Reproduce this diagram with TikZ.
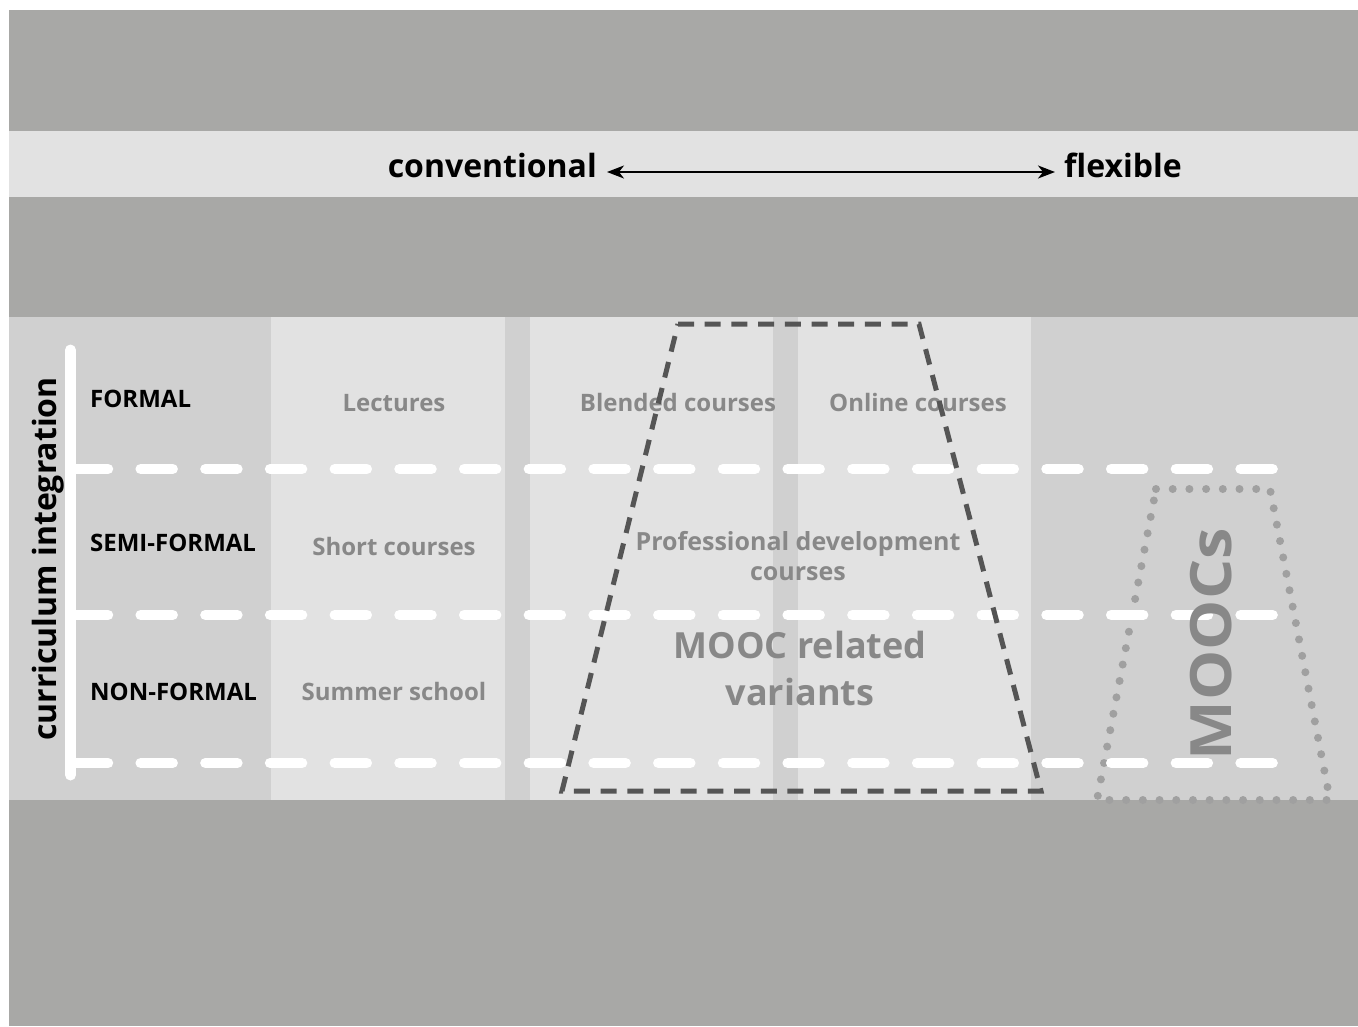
\documentclass[tikz,border=0pt]{standalone}
\usepackage{fontspec}
\setmainfont{Open Sans}
\usetikzlibrary{arrows.meta}
\definecolor{bgdark}{RGB}{168,168,166}
\definecolor{bandlight}{RGB}{226,226,226}
\definecolor{panel}{RGB}{208,208,208}
\definecolor{collight}{RGB}{226,226,226}
\definecolor{graytext}{RGB}{136,136,136}
\definecolor{trapdark}{RGB}{85,85,85}
\definecolor{dotgray}{RGB}{160,160,160}
\tikzset{
  fs/.style={font=\fontsize{#1}{#1}\selectfont\bfseries},
  rowlabel/.style={fs=24, text=black, anchor=base west, inner sep=0pt},
  cell/.style={fs=24, text=graytext, anchor=base, inner sep=0pt, align=center},
  whitedash/.style={white, line width=10.5pt, line cap=round, dash pattern=on 32pt off 32.7pt},
  axisline/.style={white, line width=11pt, line cap=round},
  trapline/.style={trapdark, line width=5pt, dash pattern=on 16pt off 10.7pt, line join=miter},
  dotline/.style={dotgray, line width=8pt, line cap=round, dash pattern=on 0pt off 16.7pt},
  endlabel/.style={fs=32, text=black, anchor=base, inner sep=0pt}
}
\begin{document}
\begin{tikzpicture}[x=1pt,y=-1pt]
\useasboundingbox (0,0) rectangle (1358,1026);
\fill[white] (0,0) rectangle (1358,1026);
\fill[bgdark] (9,10) rectangle (1358,1026);
\fill[bandlight] (9,131) rectangle (1358,197);
\fill[panel] (9,317) rectangle (1358,800);
\fill[collight] (271,317) rectangle (505,800);
\fill[collight] (530,317) rectangle (773,800);
\fill[collight] (798,317) rectangle (1031,800);

% top scale
\node[endlabel, anchor=base east] (conv) at (597,177) {conventional};
\node[endlabel, anchor=base west] (flex) at (1064,177) {flexible};
\draw[black, line width=1.8pt, {Stealth[length=17pt,width=13pt,inset=5pt]}-{Stealth[length=17pt,width=13pt,inset=5pt]}]
  ([xshift=10pt,yshift=5pt]conv.base east) -- ([xshift=-9pt,yshift=5pt]flex.base west);

% dotted MOOCs trapezoid
\coordinate (m1) at (1156,489);
\coordinate (m2) at (1270,489);
\coordinate (m3) at (1330,800);
\coordinate (m4) at (1097,800);
\draw[dotline] (m1) -- (m2) -- (m3) -- (m4) -- cycle;

% white axis and dashed lines
\coordinate (ax1) at (70.5,350);
\coordinate (ax2) at (70.5,775);
\draw[axisline] (ax1) -- (ax2);
\foreach \yy/\nm in {469/a, 615/b, 763/c}{
  \coordinate (d\nm1) at (76,\yy);
  \coordinate (d\nm2) at (1273,\yy);
  \draw[whitedash] (d\nm1) -- (d\nm2);
}

% axis label
\node[fs=32, text=black, rotate=90, anchor=base, inner sep=0pt] (ci) at (56,559) {curriculum integration};

% row labels
\node[rowlabel] (formal) at (90,407) {FORMAL};
\node[rowlabel] (semi) at (90,551) {SEMI-FORMAL};
\node[rowlabel] (non) at (90,700) {NON-FORMAL};

% cells
\node[cell] (lect) at (394,411) {Lectures};
\node[cell] (blend) at (678,411) {Blended courses};
\node[cell] (online) at (918,411) {Online courses};
\node[cell] (short) at (394,555) {Short courses};
\node[cell] (summer) at (394,700) {Summer school};
\node[fs=25, text=graytext, inner sep=0pt, align=center, anchor=base] (prof) at (798,580) {Professional development\\[5pt]courses};
\node[fs=36, text=graytext, inner sep=0pt, align=center, anchor=base] (mooc) at (800,705) {MOOC related\\[11pt]variants};
\node[fs=57, text=graytext, rotate=90, anchor=base, inner sep=0pt] (moocs) at (1231,644) {\scalebox{1.11}[1]{MOOCs}};

% dashed trapezoid
\coordinate (t1) at (678,324);
\coordinate (t2) at (919,324);
\coordinate (t3) at (1041,791);
\coordinate (t4) at (562,791);
\draw[trapline] (t1) -- (t2) -- (t3) -- (t4) -- cycle;
\end{tikzpicture}
\end{document}
